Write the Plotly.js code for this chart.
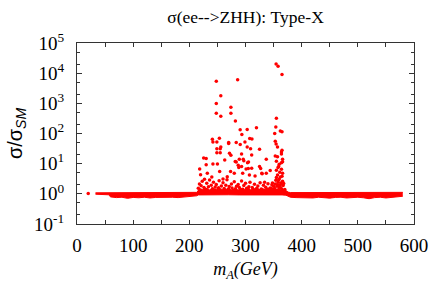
<!DOCTYPE html>
<html><head><meta charset="utf-8">
<script src="https://cdn.plot.ly/plotly-3.0.1.min.js"></script>
<style>html,body{margin:0;padding:0;background:#fff}#c{width:436px;height:286px}</style>
</head><body><div id="c"></div>
<script>
// Dense band of points around sigma/sigma_SM ~ 1 (envelope)
var bandX     = [33, 40, 50, 56, 60, 70, 80, 90, 100, 110, 120, 130, 140, 150, 160, 170, 180, 190, 200, 208, 213, 216, 230, 250, 270, 290, 310, 330, 350, 365, 372, 376, 380, 390, 400, 410, 420, 430, 440, 450, 460, 470, 480, 490, 500, 510, 520, 530, 540, 550, 560, 570, 580];
var bandUpper = [1.08,1.08,1.08,1.09,1.11,1.11,1.12,1.11,1.12,1.11,1.12,1.11,1.12,1.12,1.11,1.12,1.11,1.12,1.12,1.12,1.12,1.28,1.33,1.33,1.3,1.33,1.33,1.3,1.33,1.33,1.28,1.14,1.1,1.1,1.1,1.09,1.1,1.1,1.09,1.1,1.1,1.09,1.1,1.1,1.09,1.1,1.1,1.09,1.1,1.1,1.1,1.1,1.12];
var bandLower = [0.97,0.96,0.96,0.93,0.79,0.75,0.77,0.71,0.76,0.74,0.77,0.73,0.76,0.77,0.74,0.77,0.75,0.77,0.79,0.83,0.86,0.92,0.93,0.92,0.93,0.92,0.93,0.92,0.93,0.92,0.9,0.83,0.77,0.75,0.74,0.76,0.73,0.77,0.75,0.72,0.76,0.77,0.73,0.75,0.77,0.74,0.69,0.75,0.77,0.73,0.76,0.77,0.83];

// Isolated low-mass point
var loneX = [20];
var loneY = [1.02];

// Enhanced points (m_A, sigma/sigma_SM)
var outlierPoints = [
 [248,5400],[286,6000],[354.5,20000],[358,17000],[365,9000],[256,1800],[248,980],[274,740],
 [248,465],[274,465],[256,375],[282,260],[355,320],[354,165],[352,100],[362,120],[365,115],
 [319.5,155],[303,137],[290.5,132],[293.5,93],[307.5,68],[311.5,66],[241,65],[253.5,70],
 [242,52],[249,52],[270,50],[299,52],[249,31],[255,31],[249,23],[255,23],[271.5,22],[274,19],
 [309,31],[325,30],[353,55],[354.5,45],[357,36],[364,24.5],[364,21],[230,14.7],[225.5,15.5],
 [218.4,6.6],[263,13.3],[289,14],[283.5,11.4],[296,14],[287,8.9],[293,8],[303.6,10.8],
 [305,6.9],[327,6.9],[337,14],[329.6,4.6],[364,10.8],[366,11.5],[359,8],[256,36],[270,47],
 [283.5,50],[290.6,43],[303,36],[293,21],[311,19.5],[281.7,11.7],[297,12.6],[305.3,11.3],
 [230,9.2],[242,9.8],[250,9.8],[220,4.3],[232,4.8],[240,3.6],[254,5.5],[260,3.1],[267.5,3.7],
 [273.4,5.5],[280,4.8],[288,7.4],[295,4.8],[301,6.6],[307,4.2],[311,7.1],[317,3.9],[325,8],
 [329,4.8],[337,4.8],[344,5.9],[334,2.4],
 [353,18],[357,17],[365,28],[366,14],[355,12],[360,9.5]
];

// Dense spike near m_A ~ 350-370 GeV
var spikePoints = [
 [352,1.5],[353,2.1],[354,2.8],[355,3.5],[356,1.8],[357,4.2],[358,2.4],[359,1.4],[360,3.1],
 [361,5.2],[362,2.0],[363,1.6],[364,6.5],[365,3.8],[366,2.6],[367,1.9],[355,6.0],[358,7.5],
 [356,1.3],[360,1.7],[362,3.6],[363,2.3],[365,1.4],[366,4.8],[354,1.3],[361,1.25],[357,2.0],
 [359,2.9],[353,1.2],[367,1.3],[368,2.2],[350,1.8],[351,1.35],[348,2.3],[346,1.5],[347,2.0],
 [370,1.4],[369,1.2]
];

// Lower cluster between 215 and 350 GeV
var clusterPoints = [
 [216,1.52],[218,2.13],[219,1.31],[221,1.84],[223,2.62],[224,1.27],[226,1.63],[227,3.05],[229,1.42],
 [231,2.24],[232,1.37],[234,1.73],[236,2.85],[237,1.22],[239,1.94],[241,1.47],[243,2.41],[245,1.33],
 [246,1.68],[248,2.04],[250,1.26],[252,1.58],[253,2.72],[255,1.36],[257,1.83],[258,1.21],[260,2.33],
 [262,1.51],[264,1.32],[265,1.92],[267,2.95],[269,1.43],[271,1.74],[273,1.27],[275,2.12],[276,1.57],
 [278,1.31],[280,2.52],[282,1.48],[284,1.78],[286,1.23],[287,2.03],[289,1.62],[291,1.37],[293,2.64],
 [295,1.42],[297,1.88],[299,1.27],[300,2.23],[302,1.53],[304,1.33],[306,1.72],[308,2.44],[310,1.22],
 [312,1.63],[314,1.41],[316,2.06],[318,1.32],[320,1.54],[322,1.83],[324,1.28],[326,2.34],[328,1.46],
 [330,1.37],[332,1.93],[334,1.23],[336,1.64],[338,1.43],[340,2.14],[342,1.33],[344,1.56],
 [217,1.17],[220,1.33],[225,1.22],[228,1.43],[233,1.18],[238,1.27],[242,1.36],[247,1.21],[251,1.46],
 [256,1.17],[261,1.32],[266,1.22],[270,1.41],[274,1.17],[279,1.26],[283,1.32],[288,1.21],[292,1.37],
 [296,1.16],[301,1.27],[305,1.42],[309,1.21],[313,1.31],[317,1.17],[321,1.36],[325,1.22],[329,1.26],
 [333,1.32],[337,1.16],[341,1.41],[345,1.22],[349,1.31]
];

var xTickVals = [0,50,100,150,200,250,300,350,400,450,500,550,600];
var xTickText = ['0','','100','','200','','300','','400','','500','','600'];
var yTickVals = [0.1,1,10,100,1000,10000,100000];
var yTickText = ['10<sup>-1</sup>','10<sup>0</sup>','10<sup>1</sup>','10<sup>2</sup>','10<sup>3</sup>','10<sup>4</sup>','10<sup>5</sup>'];
var yMinorVals = [0.2,0.5,2,5,20,50,200,500,2000,5000,20000,50000];

var red = '#ff0000';
var allPts = outlierPoints.concat(spikePoints, clusterPoints);
var traces = [
 {x: bandX, y: bandLower, mode:'lines', line:{color:red, width:1}, hoverinfo:'skip', showlegend:false},
 {x: bandX, y: bandUpper, mode:'lines', fill:'tonexty', fillcolor:red, line:{color:red, width:1}, hoverinfo:'skip', showlegend:false},
 {x: loneX, y: loneY, mode:'markers', marker:{color:red, size:3.5}, showlegend:false},
 {x: allPts.map(function(p){return p[0];}), y: allPts.map(function(p){return p[1];}), mode:'markers',
  marker:{color:red, size:3.5, symbol:'circle'}, showlegend:false}
];

var tickFont = {family:'Liberation Serif, Times New Roman, serif', size:19, color:'#000'};
var layout = {
 width:436, height:286,
 margin:{l:77, r:22, t:43, b:62},
 paper_bgcolor:'#fff', plot_bgcolor:'#fff',
 showlegend:false,
 title:{text:'σ(ee-->ZHH): Type-X', font:{family:'Liberation Serif, Times New Roman, serif', size:17.5, color:'#000'},
        x:0.5, xref:'paper', xanchor:'center', y:0.94, yref:'container', yanchor:'middle'},
 xaxis:{range:[0,600], tickvals:xTickVals, ticktext:xTickText, ticks:'inside', ticklen:4, tickcolor:'#333',
        showline:true, linecolor:'#333', linewidth:1, mirror:'allticks', showgrid:false, zeroline:false,
        tickfont:tickFont, ticklabelstandoff:4,
        title:{text:'<i>m<sub>A</sub>(GeV)</i>', font:{family:'Liberation Serif, Times New Roman, serif', size:18, color:'#000'}, standoff:7}},
 yaxis:{type:'log', range:[-1,5], tickvals:yTickVals, ticktext:yTickText, ticks:'inside', ticklen:5, tickcolor:'#333',
        minor:{tickvals:yMinorVals, ticks:'inside', ticklen:3, tickcolor:'#333', showgrid:false},
        showline:true, linecolor:'#333', linewidth:1, mirror:'allticks', showgrid:false, zeroline:false,
        tickfont:tickFont, ticklabelstandoff:8,
        title:{text:'σ/σ<sub><i>SM</i></sub>', font:{family:'Liberation Sans, Arial, sans-serif', size:20, color:'#000'}, standoff:6}}
};
Plotly.newPlot('c', traces, layout, {staticPlot:true, displayModeBar:false});
</script>
</body></html>
